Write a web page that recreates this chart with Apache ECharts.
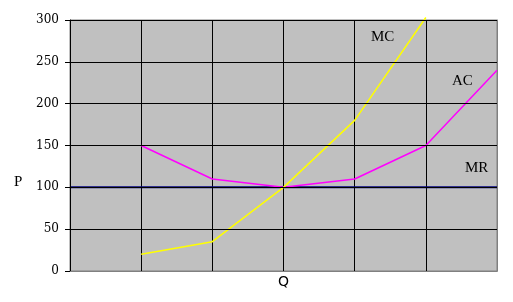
<!DOCTYPE html>
<html><head><meta charset="utf-8">
<script src="https://cdn.jsdelivr.net/npm/echarts@6/dist/echarts.min.js"></script>
<style>html,body{margin:0;padding:0;background:#fff}#c{width:513px;height:302px}</style>
</head><body><div id="c"></div>
<script>
var categories = ['0','1','2','3','4','5','6'];
var mrValues = [100,100,100,100,100,100,100];
var acValues = [null,150,110,100,110,150,240];
var mcValues = [null,20,35,100,180,303,null];
var yTicks = [0,50,100,150,200,250,300];

var serif = '"Liberation Serif","Times New Roman",serif';
var chart = echarts.init(document.getElementById('c'));
chart.setOption({
  animation:false,
  grid:{left:70,right:16,top:20,bottom:31,show:true,backgroundColor:'#C0C0C0',borderColor:'#808080',borderWidth:1},
  xAxis:[{type:'category',data:categories,boundaryGap:false,
    axisLine:{lineStyle:{color:'#808080',width:1}},axisTick:{show:false},axisLabel:{show:false},
    splitLine:{show:true,interval:function(i){return i>0&&i<6;},lineStyle:{color:'#000',width:1}},
    name:'Q',nameLocation:'middle',nameGap:4,nameTextStyle:{fontFamily:'"DejaVu Sans",sans-serif',fontSize:14,color:'#000',verticalAlign:'top'}},
    {type:'category',data:categories,boundaryGap:false,position:'top',z:5,
    axisLine:{lineStyle:{color:'#808080',width:1}},axisTick:{show:false},axisLabel:{show:false},splitLine:{show:false}}],
  yAxis:[{type:'value',min:yTicks[0],max:yTicks[yTicks.length-1],interval:50,z:5,
    axisLine:{show:true,lineStyle:{color:'#000',width:1}},
    axisTick:{show:true,length:5,lineStyle:{color:'#000'}},
    axisLabel:{fontFamily:'"DejaVu Serif",serif',fontSize:12,color:'#000',margin:11},
    splitLine:{show:true,lineStyle:{color:'#000',width:1}}},
    {type:'value',min:0,max:300,position:'right',z:5,
    axisLine:{show:true,lineStyle:{color:'#808080',width:1}},axisTick:{show:false},axisLabel:{show:false},splitLine:{show:false}}],
  series:[
    {type:'line',data:mrValues,symbol:'none',lineStyle:{color:'#000080',width:2},z:3},
    {type:'line',data:acValues,symbol:'none',lineStyle:{color:'#FF00FF',width:1.5},z:4},
    {type:'line',data:mcValues,symbol:'none',clip:false,lineStyle:{color:'#FFFF00',width:1.5},z:4}
  ],
  graphic:[
    {type:'text',left:14,top:175,style:{text:'P',font:'15px '+serif,fill:'#000'}},
    {type:'text',left:371,top:30,style:{text:'MC',font:'15px '+serif,fill:'#000'}},
    {type:'text',left:452,top:74,style:{text:'AC',font:'15px '+serif,fill:'#000'}},
    {type:'text',left:465,top:161,style:{text:'MR',font:'15px '+serif,fill:'#000'}}
  ]
});
</script></body></html>
